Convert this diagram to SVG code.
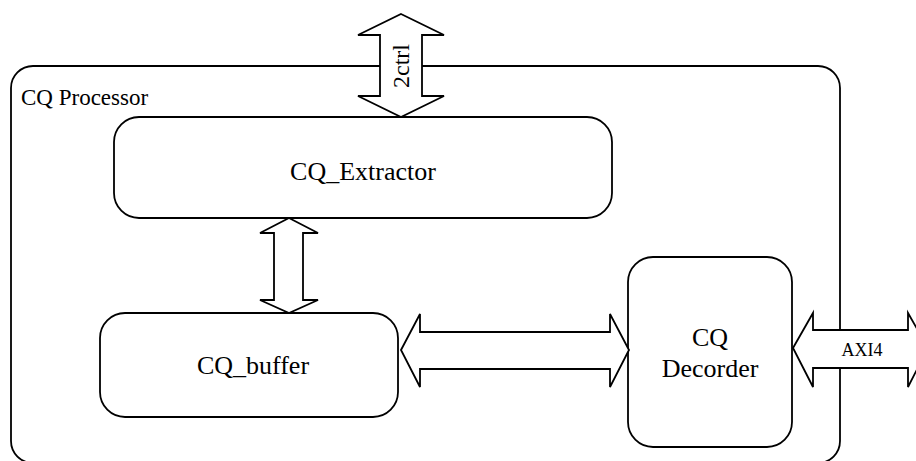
<svg xmlns="http://www.w3.org/2000/svg" width="916" height="461" viewBox="0 0 916 461">
<style>
.box{fill:#fff;stroke:#000;stroke-width:1.8}
.arr{fill:#fff;stroke:#000;stroke-width:1.8;stroke-linejoin:miter}
.t{font-family:"Liberation Serif","Times New Roman",serif;fill:#000}
</style>
<rect width="916" height="461" fill="#fff"/>
<g id="processor">
<rect class="box" x="11" y="66" width="829" height="397" rx="22" ry="22"/>
<text class="t" x="21" y="105" font-size="23">CQ Processor</text>
</g>
<g id="extractor">
<rect class="box" x="114" y="117" width="498" height="101" rx="25" ry="25"/>
<text class="t" x="363" y="180" font-size="26" text-anchor="middle">CQ_Extractor</text>
</g>
<g id="buffer">
<rect class="box" x="100" y="313" width="298" height="104" rx="25" ry="25"/>
<text class="t" x="253" y="374" font-size="26" text-anchor="middle">CQ_buffer</text>
</g>
<g id="decorder">
<rect class="box" x="628" y="257" width="164" height="190" rx="25" ry="25"/>
<text class="t" x="710" y="346" font-size="26" text-anchor="middle">CQ</text>
<text class="t" x="710" y="377" font-size="26" text-anchor="middle">Decorder</text>
</g>
<g id="connectors">
<path class="arr" d="M401,14 L444,35 L422,35 L422,96 L444,96 L401,117 L358,96 L380,96 L380,35 L358,35 Z"/>
<text class="t" x="0" y="0" font-size="24" text-anchor="middle" transform="translate(409,66) rotate(-90)">2ctrl</text>
<path class="arr" d="M289,218 L318,233 L303,233 L303,300 L318,300 L289,313 L260,300 L274,300 L274,233 L260,233 Z"/>
<path class="arr" d="M401,350 L420,314 L420,332 L610,332 L610,314 L629,350 L610,387 L610,369 L420,369 L420,387 Z"/>
<path class="arr" d="M793,348 L813,313 L813,330 L908,330 L908,313 L928,348 L908,387 L908,368 L813,368 L813,387 Z"/>
<text class="t" x="862" y="356" font-size="18" text-anchor="middle">AXI4</text>
</g>
</svg>
